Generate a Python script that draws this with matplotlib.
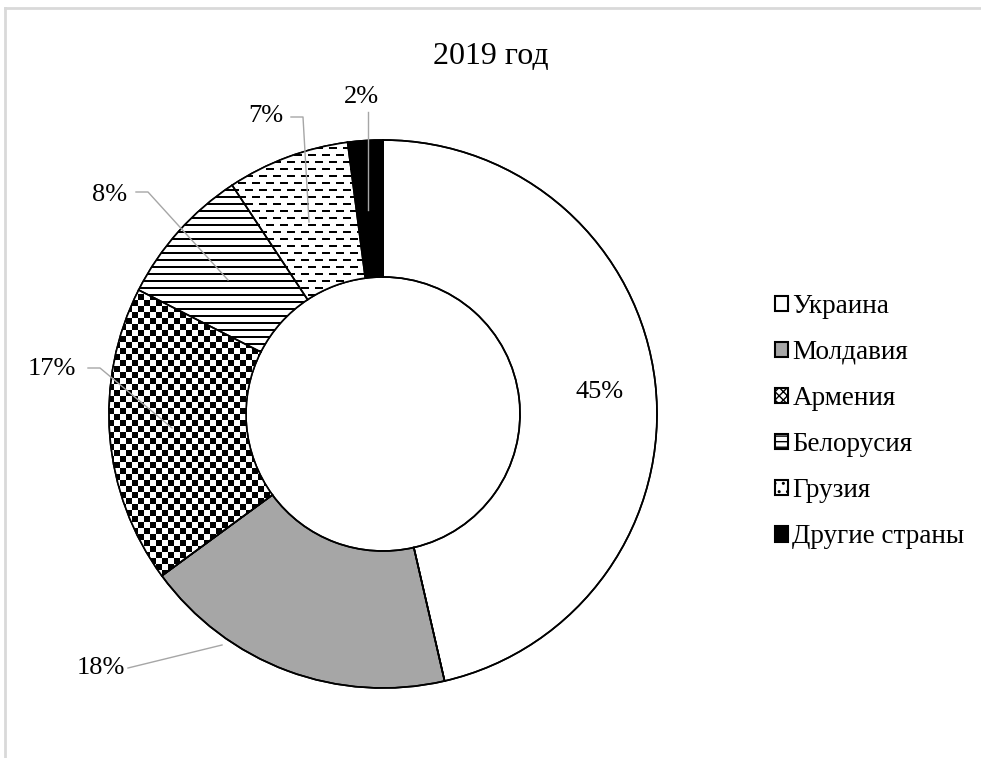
import numpy as np
import matplotlib
matplotlib.use("Agg")
import matplotlib.pyplot as plt
from matplotlib.patches import Wedge, Patch
from matplotlib.lines import Line2D

plt.rcParams['font.family'] = ['Liberation Serif', 'DejaVu Serif']

# данные
paises = ['Украина', 'Молдавия', 'Армения', 'Белорусия', 'Грузия', 'Другие страны']
valores = [45, 18, 17, 8, 7, 2]
etiquetas = ['45%', '18%', '17%', '8%', '7%', '2%']
titulo = '2019 год'

colores = ['white', '#a6a6a6', 'white', 'white', 'white', 'black']

# геометрия в пикселях
W, H = 981, 758
CX, CY, R = 383, 414, 274


def px(x, y):
    return (x - CX) / R, (CY - y) / R


fig = plt.figure(figsize=(W / 100, H / 100), dpi=100)
ax = fig.add_axes([0, 0, 1, 1])
x0, y1 = px(0, 0)
x1, y0 = px(W, H)

wedges, _ = ax.pie(valores, colors=colores, startangle=90, counterclock=False,
                   radius=1, wedgeprops=dict(width=0.5, edgecolor='black', linewidth=1.2))

# текстуры (шахматка, линии, штрихи)
yy, xx = np.indices((H, W))
cheq = ((xx // 6 + yy // 6) % 2 == 0)
rayas = (yy % 7) < 2
fila = yy // 7
guion = ((yy % 7) < 2) & (((xx + (fila % 2) * 7) % 14) < 8)


def textura(mask, wedge):
    img = np.ones((H, W, 3))
    img[mask] = 0.0
    im = ax.imshow(img, extent=(x0, x1, y0, y1), interpolation='nearest', zorder=2)
    im.set_clip_path(wedge)


textura(cheq, wedges[2])
textura(rayas, wedges[3])
textura(guion, wedges[4])

for w in wedges:
    ax.add_patch(Wedge(w.center, w.r, w.theta1, w.theta2, width=w.width,
                       fill=False, edgecolor='black', linewidth=1.2, zorder=3))

ax.set_xlim(x0, x1)
ax.set_ylim(y0, y1)
ax.axis('off')

# подписи и линии-выноски
pos_texto = [(600, 392), (101, 668), (52, 369), (110, 195), (266, 116), (361, 97)]
lineas = [None,
          [(128, 668), (222, 645)],
          [(88, 368), (100, 368), (172, 428)],
          [(136, 192), (148, 192), (228, 280)],
          [(291, 117), (303, 117), (309, 222)],
          [(368, 112), (368, 210)]]

for lab, (tx, ty), ln in zip(etiquetas, pos_texto, lineas):
    ax.text(*px(tx, ty), lab, ha='center', va='center', fontsize=19, zorder=5)
    if ln:
        pts = [px(a, b) for a, b in ln]
        ax.plot([p[0] for p in pts], [p[1] for p in pts], color='#a6a6a6', lw=1, zorder=4)

fig.text(0.5, 1 - 56 / H, titulo, ha='center', va='center', fontsize=23)

handles = [Patch(facecolor='white', edgecolor='black', lw=1.5),
           Patch(facecolor='#a6a6a6', edgecolor='black', lw=1.5),
           Patch(facecolor='white', edgecolor='black', lw=1.5, hatch='xxxx'),
           Patch(facecolor='white', edgecolor='black', lw=1.5, hatch='---'),
           Patch(facecolor='white', edgecolor='black', lw=1.5, hatch='..'),
           Patch(facecolor='black', edgecolor='black', lw=1.5)]
fig.legend(handles, paises, loc='upper left', bbox_to_anchor=(764 / W, 1 - 283 / H),
           frameon=False, fontsize=19.5, handlelength=0.5, handleheight=0.5,
           handletextpad=0.15, labelspacing=0.78, borderaxespad=0)

# рамка
fig.add_artist(Line2D([5 / W, 5 / W], [0, 1 - 8 / H], color='#d9d9d9', lw=2))
fig.add_artist(Line2D([5 / W, 1], [1 - 8 / H, 1 - 8 / H], color='#d9d9d9', lw=2))

fig.savefig('out.png', dpi=100)
